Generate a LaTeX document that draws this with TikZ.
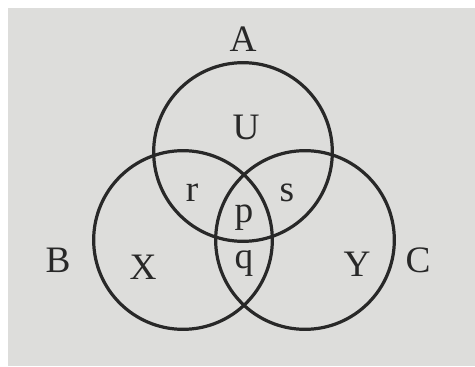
\documentclass[tikz,border=0pt]{standalone}
\usepackage{fontspec}
\setmainfont{Liberation Serif}
\usepackage{xcolor}
\definecolor{paper}{RGB}{221,221,219}
\definecolor{ink}{RGB}{40,40,40}

\begin{document}
\begin{tikzpicture}[
  x=0.75pt, y=-0.75pt,
  setcircle/.style={circle,draw=ink,line width=2.4pt,minimum size=134pt,inner sep=0pt},
  setname/.style={text=ink,font=\fontsize{28}{32}\selectfont},
  region/.style={text=ink,font=\fontsize{28}{32}\selectfont}
]
  \useasboundingbox (0,0) rectangle (475,367);
  \fill[paper] (8,8) rectangle (475,366);
  \node[setcircle] (cA) at (243,152) {};
  \node[setcircle] (cB) at (183,240) {};
  \node[setcircle] (cC) at (305,240) {};
  \node[setname] (A) at (243,39) {A};
  \node[setname] (B) at (58,260) {B};
  \node[setname] (C) at (418,260) {C};
  \node[region] (U) at (246,127) {U};
  \node[region] (r) at (192,193) {r};
  \node[region] (s) at (287,193) {s};
  \node[region] (p) at (244,218) {p};
  \node[region] (q) at (244,263) {q};
  \node[region] (X) at (143,267) {X};
  \node[region] (Y) at (357,264) {Y};
\end{tikzpicture}
\end{document}
